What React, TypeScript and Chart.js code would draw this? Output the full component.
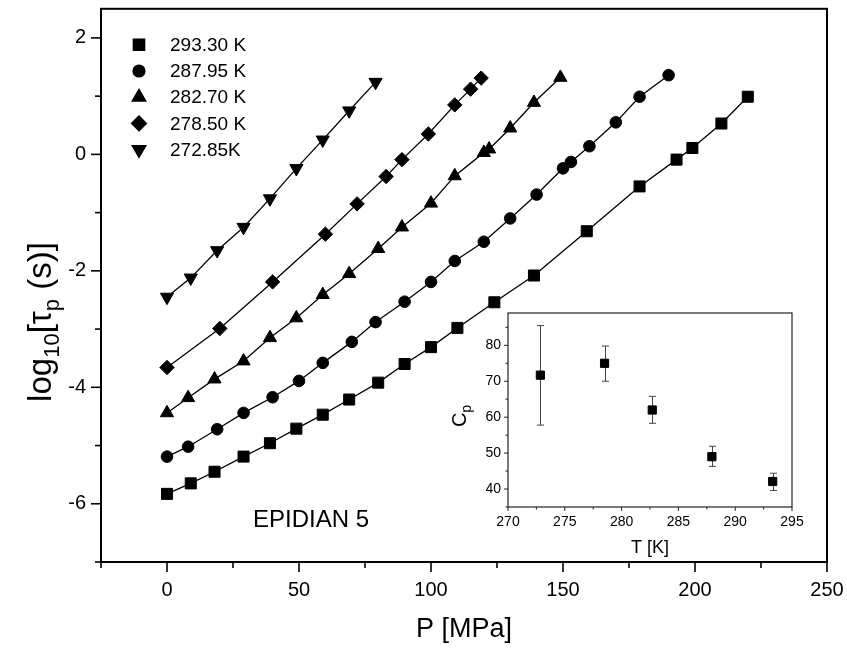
import React, { useEffect, useRef } from 'react';
import { Chart, registerables } from 'chart.js';
import { drawPoint } from 'chart.js/helpers';

Chart.register(...registerables);

const FONT = '"Liberation Sans", Arial, Helvetica, sans-serif';

// ---- main chart data: P [MPa] vs log10(tau_p) ----
const seriesLabels = ['293.30 K', '287.95 K', '282.70 K', '278.50 K', '272.85K'];

const p293 = [0, 9, 18, 29, 39, 49, 59, 69, 80, 90, 100, 110, 124, 139, 159, 179, 193, 199, 210, 220];
const y293 = [-5.83, -5.65, -5.45, -5.19, -4.96, -4.71, -4.47, -4.21, -3.92, -3.6, -3.31, -2.98, -2.54, -2.08, -1.32, -0.55, -0.09, 0.11, 0.53, 0.99];

const p288 = [0, 8, 19, 29, 40, 50, 59, 70, 79, 90, 100, 109, 120, 130, 140, 150, 153, 160, 170, 179, 190];
const y288 = [-5.19, -5.02, -4.72, -4.44, -4.17, -3.89, -3.58, -3.22, -2.88, -2.53, -2.19, -1.83, -1.5, -1.1, -0.69, -0.24, -0.13, 0.14, 0.55, 0.99, 1.36];

const p283 = [0, 8, 18, 29, 39, 49, 59, 69, 80, 89, 100, 109, 120, 122, 130, 139, 149];
const y283 = [-4.44, -4.18, -3.86, -3.55, -3.15, -2.81, -2.41, -2.05, -1.62, -1.25, -0.84, -0.37, 0.03, 0.09, 0.45, 0.89, 1.32];

const p279 = [0, 20, 40, 60, 72, 83, 89, 99, 109, 115, 119];
const y279 = [-3.66, -2.99, -2.19, -1.37, -0.85, -0.38, -0.09, 0.35, 0.85, 1.12, 1.31];

const p273 = [0, 9, 19, 29, 39, 49, 59, 69, 79];
const y273 = [-2.45, -2.12, -1.65, -1.25, -0.76, -0.24, 0.25, 0.75, 1.24];

const xMajorTicks = [0, 50, 100, 150, 200, 250];
const xMinorTicks = [-25, 25, 75, 125, 175, 225];
const yMajorTicks = [-6, -4, -2, 0, 2];
const yMinorTicks = [-7, -5, -3, -1, 1];

// ---- inset data: T [K] vs Cp ----
const insetT = [272.85, 278.5, 282.7, 287.95, 293.3];
const insetCp = [71.7, 75.0, 62.0, 49.0, 42.1];
const insetCpLow = [57.8, 70.0, 58.3, 46.3, 39.6];
const insetCpHigh = [85.5, 79.8, 65.8, 51.9, 44.4];
const insetXMajor = [270, 275, 280, 285, 290, 295];
const insetXMinor = [272.5, 277.5, 282.5, 287.5, 292.5];
const insetYMajor = [40, 50, 60, 70, 80];
const insetYMinor = [35, 45, 55, 65, 75, 85];

const toPts = (xs: number[], ys: number[]) => xs.map((v, i) => ({ x: v, y: ys[i] }));

const zeroPadX = (s: any) => { s.paddingLeft = 0; s.paddingRight = 0; };
const zeroPadY = (s: any) => { s.paddingTop = 0; s.paddingBottom = 0; };

const mainDecor = {
  id: 'mainDecor',
  afterDraw(chart: any) {
    const { ctx, chartArea: a, scales } = chart;
    const x = scales.x, y = scales.y;
    ctx.save();
    ctx.strokeStyle = '#000';
    ctx.lineWidth = 2;
    ctx.strokeRect(a.left, a.top, a.right - a.left, a.bottom - a.top);
    ctx.lineWidth = 1.6;
    const line = (x1: number, y1: number, x2: number, y2: number) => {
      ctx.beginPath(); ctx.moveTo(x1, y1); ctx.lineTo(x2, y2); ctx.stroke();
    };
    xMajorTicks.forEach(v => { const px = x.getPixelForValue(v); line(px, a.bottom, px, a.bottom + 10); });
    xMinorTicks.forEach(v => { const px = x.getPixelForValue(v); line(px, a.bottom, px, a.bottom + 6); });
    yMajorTicks.forEach(v => { const py = y.getPixelForValue(v); line(a.left, py, a.left - 10, py); });
    yMinorTicks.forEach(v => { const py = y.getPixelForValue(v); line(a.left, py, a.left - 6, py); });

    // legend
    ctx.font = `19px ${FONT}`;
    ctx.textBaseline = 'middle';
    ctx.textAlign = 'left';
    chart.data.datasets.forEach((ds: any, i: number) => {
      const ly = a.top + 36 + i * 26.2;
      const lx = a.left + 38;
      ctx.fillStyle = '#000';
      ctx.strokeStyle = '#000';
      drawPoint(ctx, { pointStyle: ds.pointStyle, radius: ds.pointRadius, rotation: ds.pointRotation || 0, borderWidth: 1 }, lx, ly);
      ctx.fillStyle = '#000';
      ctx.fillText(ds.label, lx + 31, ly + 1);
    });

    // sample name
    ctx.fillStyle = '#000';
    ctx.font = `24px ${FONT}`;
    ctx.textAlign = 'center';
    ctx.fillText('EPIDIAN 5', 311, 520);

    // x title
    ctx.font = `27px ${FONT}`;
    ctx.textBaseline = 'alphabetic';
    ctx.fillText('P [MPa]', (a.left + a.right) / 2, 637);

    // y title with subscripts
    ctx.save();
    ctx.translate(51, 322);
    ctx.rotate(-Math.PI / 2);
    const big = `33px ${FONT}`, small = `22px ${FONT}`;
    const parts: [string, string, number][] = [
      ['log', big, 0], ['10', small, 8], ['[', big, 0], ['\u03c4', big, 0], ['p', small, 8], [' (s)]', big, 0],
    ];
    let total = 0;
    parts.forEach(([t, f]) => { ctx.font = f; total += ctx.measureText(t).width; });
    let cx = -total / 2;
    ctx.textAlign = 'left';
    parts.forEach(([t, f, dy]) => {
      ctx.font = f;
      ctx.fillText(t, cx, dy);
      cx += ctx.measureText(t).width;
    });
    ctx.restore();
    ctx.restore();
  },
};

const insetDecor = {
  id: 'insetDecor',
  beforeDraw(chart: any) {
    const { ctx, chartArea: a } = chart;
    ctx.save();
    ctx.fillStyle = '#fff';
    ctx.fillRect(a.left, a.top, a.right - a.left, a.bottom - a.top);
    ctx.restore();
  },
  beforeDatasetsDraw(chart: any) {
    const { ctx, scales } = chart;
    const x = scales.x, y = scales.y;
    ctx.save();
    ctx.strokeStyle = '#444';
    ctx.lineWidth = 1;
    insetT.forEach((t, i) => {
      const px = Math.round(x.getPixelForValue(t)) + 0.5;
      const lo = y.getPixelForValue(insetCpLow[i]);
      const hi = y.getPixelForValue(insetCpHigh[i]);
      ctx.beginPath();
      ctx.moveTo(px, lo); ctx.lineTo(px, hi);
      ctx.moveTo(px - 3.5, lo); ctx.lineTo(px + 3.5, lo);
      ctx.moveTo(px - 3.5, hi); ctx.lineTo(px + 3.5, hi);
      ctx.stroke();
    });
    ctx.restore();
  },
  afterDraw(chart: any) {
    const { ctx, chartArea: a, scales } = chart;
    const x = scales.x, y = scales.y;
    ctx.save();
    ctx.strokeStyle = '#222';
    ctx.lineWidth = 1.2;
    ctx.strokeRect(a.left, a.top, a.right - a.left, a.bottom - a.top);
    const line = (x1: number, y1: number, x2: number, y2: number) => {
      ctx.beginPath(); ctx.moveTo(x1, y1); ctx.lineTo(x2, y2); ctx.stroke();
    };
    ctx.lineWidth = 1;
    insetXMajor.forEach(v => { const px = x.getPixelForValue(v); line(px, a.bottom, px, a.bottom + 4); });
    insetXMinor.forEach(v => { const px = x.getPixelForValue(v); line(px, a.bottom, px, a.bottom + 2.5); });
    insetYMajor.forEach(v => { const py = y.getPixelForValue(v); line(a.left, py, a.left - 4, py); });
    insetYMinor.forEach(v => { const py = y.getPixelForValue(v); line(a.left, py, a.left - 2.5, py); });

    ctx.fillStyle = '#000';
    ctx.font = `18px ${FONT}`;
    ctx.textAlign = 'center';
    ctx.textBaseline = 'alphabetic';
    ctx.fillText('T [K]', (a.left + a.right) / 2, a.bottom + 46);

    ctx.save();
    ctx.translate(a.left - 42, (a.top + a.bottom) / 2 + 6);
    ctx.rotate(-Math.PI / 2);
    ctx.font = `20px ${FONT}`;
    const wC = ctx.measureText('C').width;
    ctx.font = `14px ${FONT}`;
    const wp = ctx.measureText('p').width;
    const cx = -(wC + wp) / 2;
    ctx.textAlign = 'left';
    ctx.font = `20px ${FONT}`;
    ctx.fillText('C', cx, 0);
    ctx.font = `14px ${FONT}`;
    ctx.fillText('p', cx + wC, 5);
    ctx.restore();
    ctx.restore();
  },
};

export default function App() {
  const mainRef = useRef<HTMLCanvasElement>(null);
  const insetRef = useRef<HTMLCanvasElement>(null);

  useEffect(() => {
    document.body.style.margin = '0';
    const mk = (label: string, xs: number[], ys: number[], style: string, radius: number, rotation = 0) => ({
      label,
      data: toPts(xs, ys),
      showLine: true,
      borderColor: '#000',
      borderWidth: 1.3,
      backgroundColor: '#000',
      pointBackgroundColor: '#000',
      pointBorderColor: '#000',
      pointBorderWidth: 1,
      pointStyle: style,
      pointRadius: radius,
      pointRotation: rotation,
      tension: 0,
    });

    const main = new Chart(mainRef.current!, {
      type: 'scatter',
      data: {
        datasets: [
          mk(seriesLabels[0], p293, y293, 'rect', 7.8),
          mk(seriesLabels[1], p288, y288, 'circle', 5.8),
          mk(seriesLabels[2], p283, y283, 'triangle', 7.6),
          mk(seriesLabels[3], p279, y279, 'rectRot', 7.2),
          mk(seriesLabels[4], p273, y273, 'triangle', 7.6, 180),
        ],
      },
      options: {
        animation: false,
        responsive: false,
        events: [],
        layout: { padding: { top: 6, right: 20, left: 0, bottom: 0 } },
        plugins: { legend: { display: false }, tooltip: { enabled: false }, title: { display: false } },
        scales: {
          x: {
            type: 'linear',
            min: -25,
            max: 250,
            afterFit: (s: any) => { s.height = 88; zeroPadX(s); },
            afterBuildTicks: (s: any) => {
              s.ticks = [...xMajorTicks, ...xMinorTicks].sort((a, b) => a - b).map(value => ({ value }));
            },
            ticks: {
              autoSkip: false,
              maxRotation: 0,
              padding: 6,
              color: '#000',
              font: { family: FONT, size: 20 },
              callback: (v: any) => (xMajorTicks.includes(Number(v)) ? String(v) : ''),
            },
            grid: { display: true, drawOnChartArea: false, drawTicks: true, tickLength: 10, color: 'rgba(0,0,0,0)' },
            border: { display: false },
          },
          y: {
            type: 'linear',
            min: -7,
            max: 2.5,
            afterFit: (s: any) => { s.width = 101; zeroPadY(s); },
            afterBuildTicks: (s: any) => {
              s.ticks = [...yMajorTicks, ...yMinorTicks].sort((a, b) => a - b).map(value => ({ value }));
            },
            ticks: {
              autoSkip: false,
              padding: 5,
              color: '#000',
              font: { family: FONT, size: 20 },
              callback: (v: any) => (yMajorTicks.includes(Number(v)) ? String(v) : ''),
            },
            grid: { display: true, drawOnChartArea: false, drawTicks: true, tickLength: 10, color: 'rgba(0,0,0,0)' },
            border: { display: false },
          },
        },
      },
      plugins: [mainDecor],
    } as any);

    const inset = new Chart(insetRef.current!, {
      type: 'scatter',
      data: {
        datasets: [
          {
            label: 'Cp',
            data: toPts(insetT, insetCp),
            pointStyle: 'rect',
            pointRadius: 5.8,
            pointBackgroundColor: '#000',
            pointBorderColor: '#000',
            pointBorderWidth: 1,
          },
        ],
      },
      options: {
        animation: false,
        responsive: false,
        events: [],
        layout: { padding: { top: 13, right: 18, left: 0, bottom: 0 } },
        plugins: { legend: { display: false }, tooltip: { enabled: false } },
        scales: {
          x: {
            type: 'linear',
            min: 270,
            max: 295,
            afterFit: (s: any) => { s.height = 63; zeroPadX(s); },
            afterBuildTicks: (s: any) => { s.ticks = insetXMajor.map(value => ({ value })); },
            ticks: { autoSkip: false, maxRotation: 0, padding: 3, color: '#000', font: { family: FONT, size: 14 } },
            grid: { display: true, drawOnChartArea: false, drawTicks: true, tickLength: 4, color: 'rgba(0,0,0,0)' },
            border: { display: false },
          },
          y: {
            type: 'linear',
            min: 35,
            max: 89,
            afterFit: (s: any) => { s.width = 78; zeroPadY(s); },
            afterBuildTicks: (s: any) => { s.ticks = insetYMajor.map(value => ({ value })); },
            ticks: { autoSkip: false, padding: 3, color: '#000', font: { family: FONT, size: 14 } },
            grid: { display: true, drawOnChartArea: false, drawTicks: true, tickLength: 4, color: 'rgba(0,0,0,0)' },
            border: { display: false },
          },
        },
      },
      plugins: [insetDecor],
    } as any);

    return () => {
      main.destroy();
      inset.destroy();
    };
  }, []);

  return (
    <div style={{ position: 'relative', width: 847, height: 650, overflow: 'hidden', background: '#fff' }}>
      <canvas ref={mainRef} width={847} height={650} style={{ position: 'absolute', left: 0, top: 0 }} />
      <canvas ref={insetRef} width={380} height={270} style={{ position: 'absolute', left: 430, top: 300 }} />
    </div>
  );
}
